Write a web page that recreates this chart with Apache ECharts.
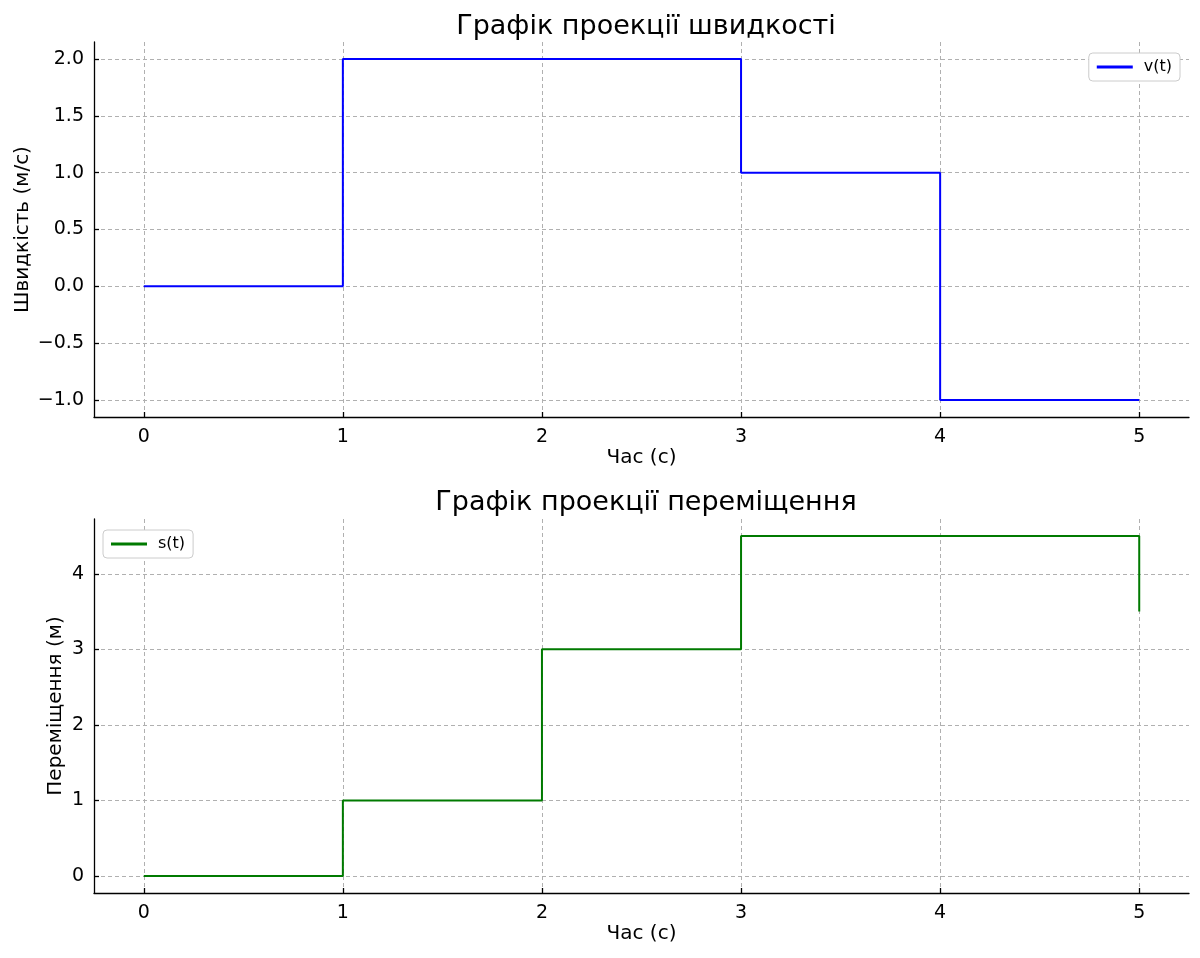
<!DOCTYPE html>
<html>
<head>
<meta charset="utf-8">
<script src="https://cdn.jsdelivr.net/npm/echarts@6/dist/echarts.min.js"></script>
<style>html,body{margin:0;padding:0;background:#fff;}#c{width:1200px;height:958px;}</style>
</head>
<body>
<div id="c"></div>
<script>
const timeValues = [0, 1, 2, 3, 4, 5];
const velocityValues = [0, 2, 2, 1, -1, -1];
const displacementValues = [0, 1, 3, 4.5, 4.5, 3.5];
const xTicks = [0, 1, 2, 3, 4, 5];
const velocityTicks = [-1.0, -0.5, 0.0, 0.5, 1.0, 1.5, 2.0];
const displacementTicks = [0, 1, 2, 3, 4];

const FONT = 'DejaVu Sans';
const chart = echarts.init(document.getElementById('c'), null, {renderer: 'canvas'});

function xAxisCfg(gridIndex) {
  return {
    type: 'value', gridIndex, min: -0.25, max: 5.25,
    name: 'Час (с)', nameLocation: 'middle', nameGap: 31, nameMoveOverlap: false,
    nameTextStyle: {fontFamily: FONT, fontSize: 20, color: '#000'},
    axisLine: {show: true, onZero: false, lineStyle: {color: '#000', width: 1.3}},
    axisTick: {show: true, inside: true, length: 5, customValues: xTicks, lineStyle: {color: '#000', width: 1.3}},
    axisLabel: {customValues: xTicks, fontFamily: FONT, fontSize: 19, color: '#000', margin: 11, formatter: v => String(v)},
    splitLine: {show: true, lineStyle: {color: '#b0b0b0', type: [4, 3], width: 1}}
  };
}
function yAxisCfg(gridIndex, name, min, max, ticks, fmt, gap) {
  return {
    type: 'value', gridIndex, min, max,
    name, nameLocation: 'middle', nameGap: gap, nameRotate: 90, nameMoveOverlap: false,
    nameTextStyle: {fontFamily: FONT, fontSize: 20, color: '#000'},
    axisLine: {show: true, onZero: false, lineStyle: {color: '#000', width: 1.3}},
    axisTick: {show: true, inside: true, length: 5, customValues: ticks, lineStyle: {color: '#000', width: 1.3}},
    axisLabel: {customValues: ticks, fontFamily: FONT, fontSize: 19, color: '#000', margin: 10, formatter: fmt},
    splitLine: {show: true, lineStyle: {color: '#b0b0b0', type: [4, 3], width: 1}}
  };
}

const option = {
  backgroundColor: '#fff',
  animation: false,
  title: [
    {text: 'Графік проекції швидкості', left: 641, top: 8, textAlign: 'center',
     textStyle: {fontFamily: FONT, fontSize: 27, fontWeight: 'normal', color: '#000'}},
    {text: 'Графік проекції переміщення', left: 641, top: 484, textAlign: 'center',
     textStyle: {fontFamily: FONT, fontSize: 27, fontWeight: 'normal', color: '#000'}}
  ],
  legend: [
    {data: ['v(t)'], right: 20, top: 53, orient: 'vertical', icon: 'rect', itemWidth: 36, itemHeight: 3, itemGap: 14,
     padding: [6, 8, 6, 8], borderColor: '#cccccc', borderWidth: 1, borderRadius: 4, backgroundColor: '#fff',
     textStyle: {fontFamily: FONT, fontSize: 16, color: '#000', padding: [0, 0, 0, 6]}},
    {data: ['s(t)'], left: 103, top: 530, orient: 'vertical', icon: 'rect', itemWidth: 36, itemHeight: 3, itemGap: 14,
     padding: [6, 8, 6, 8], borderColor: '#cccccc', borderWidth: 1, borderRadius: 4, backgroundColor: '#fff',
     textStyle: {fontFamily: FONT, fontSize: 16, color: '#000', padding: [0, 0, 0, 6]}}
  ],
  grid: [
    {left: 94, top: 42, width: 1095, height: 375, containLabel: false},
    {left: 94, top: 519, width: 1095, height: 374, containLabel: false}
  ],
  xAxis: [xAxisCfg(0), xAxisCfg(1)],
  yAxis: [
    yAxisCfg(0, 'Швидкість (м/с)', -1.15, 2.15, velocityTicks, v => v.toFixed(1).replace('-', '\u2212'), 61),
    yAxisCfg(1, 'Переміщення (м)', -0.225, 4.725, displacementTicks, v => String(v).replace('-', '\u2212'), 28)
  ],
  series: [
    {name: 'v(t)', type: 'line', xAxisIndex: 0, yAxisIndex: 0, step: 'end', showSymbol: false, symbol: 'none',
     data: timeValues.map((t, i) => [t, velocityValues[i]]),
     lineStyle: {color: '#0000ff', width: 2}, itemStyle: {color: '#0000ff'}},
    {name: 's(t)', type: 'line', xAxisIndex: 1, yAxisIndex: 1, step: 'end', showSymbol: false, symbol: 'none',
     data: timeValues.map((t, i) => [t, displacementValues[i]]),
     lineStyle: {color: '#007a00', width: 2}, itemStyle: {color: '#007a00'}}
  ]
};
chart.setOption(option);
</script>
</body>
</html>
